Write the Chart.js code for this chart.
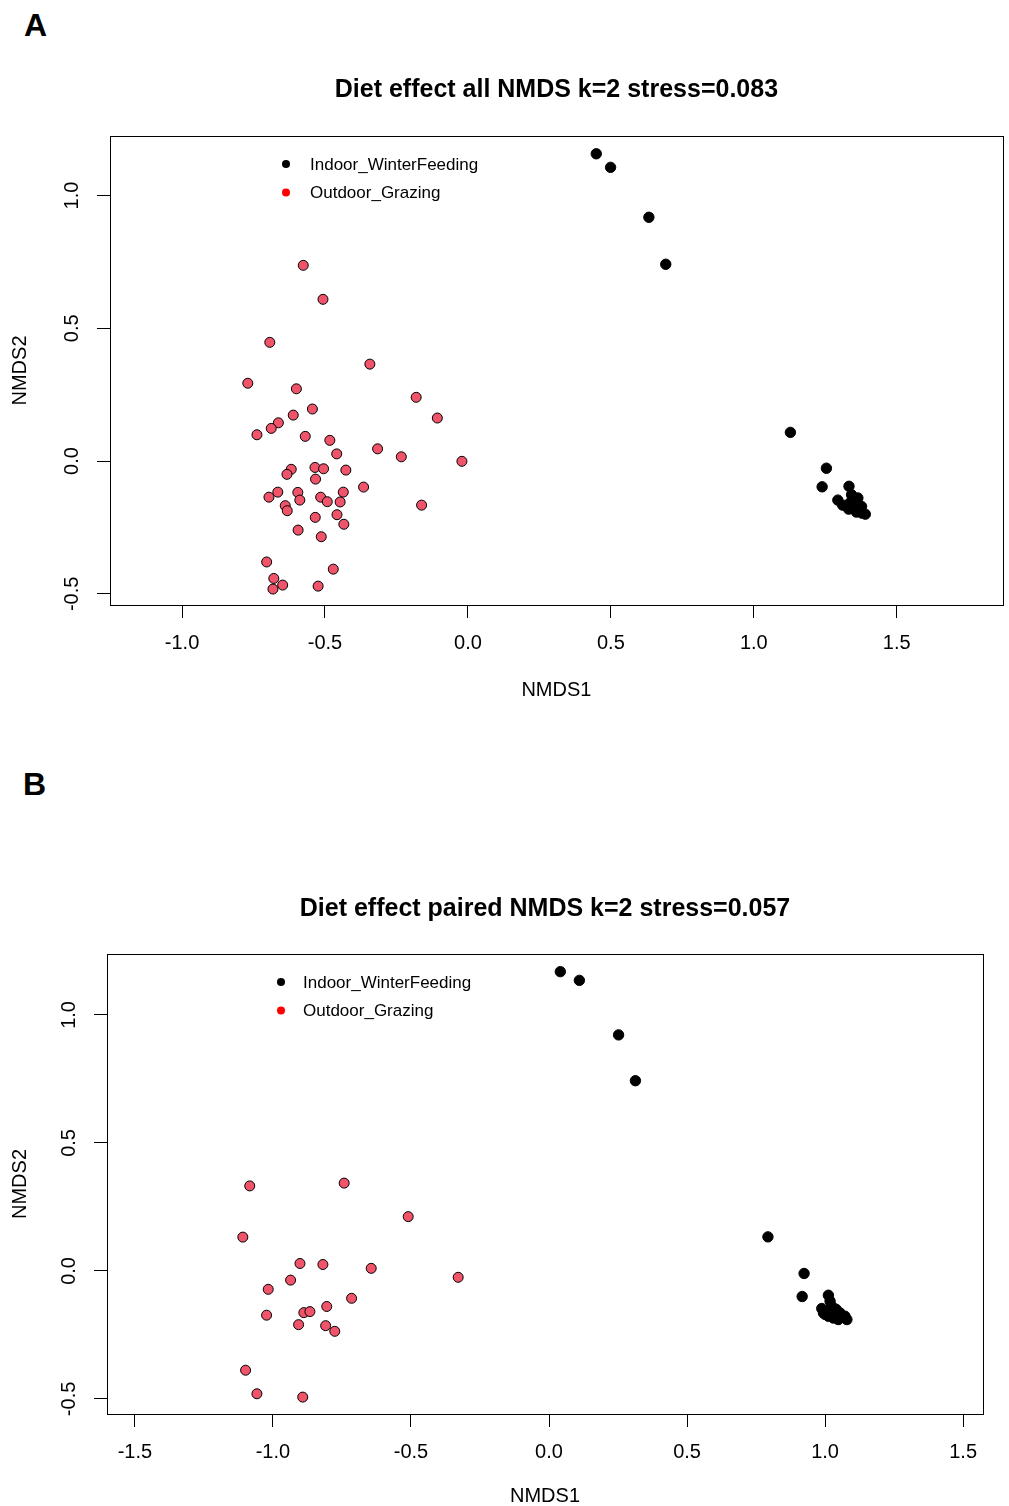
<!DOCTYPE html>
<html>
<head>
<meta charset="utf-8">
<title>Diet effect NMDS</title>
<script src="https://cdn.jsdelivr.net/npm/chart.js@4.4.0/dist/chart.umd.min.js"></script>
<style>
    body { margin: 0; background: #fff; font-family: "Liberation Sans", Arial, sans-serif; }
    #page { position: relative; width: 1009px; height: 1506px; overflow: hidden; }
    .panel-letter { position: absolute; font-weight: bold; font-size: 32px; line-height: 1; }
    .panel { position: absolute; left: 0; width: 1009px; }
</style>
</head>
<body>
<div id="page">
    <div class="panel-letter" style="left:24px; top:9px;">A</div>
    <div class="panel" style="top:0; height:720px;"><canvas id="chartA"></canvas></div>
    <div class="panel-letter" style="left:23px; top:768px;">B</div>
    <div class="panel" style="top:740px; height:766px;"><canvas id="chartB"></canvas></div>
</div>
<script>
/**
 * NMDS ordination plots, diet effect (all samples / paired samples)
 */

const groups = ['Indoor_WinterFeeding', 'Outdoor_Grazing'];
const groupColors = ['#000000', '#F0546B'];
const legendColors = ['#000000', '#FF0000'];

const xTicksA = [-1.0, -0.5, 0.0, 0.5, 1.0, 1.5];
const xTicksB = [-1.5, -1.0, -0.5, 0.0, 0.5, 1.0, 1.5];
const yTicks = [-0.5, 0.0, 0.5, 1.0];

// Panel A - all samples [NMDS1, NMDS2]
const indoorA = [
    [0.449, 1.157], [0.499, 1.106], [0.633, 0.918], [0.692, 0.741],
    [1.128, 0.108], [1.254, -0.027], [1.239, -0.097], [1.333, -0.095],
    [1.294, -0.147], [1.311, -0.166], [1.342, -0.127], [1.353, -0.158],
    [1.377, -0.171], [1.390, -0.200], [1.359, -0.192], [1.347, -0.177],
    [1.364, -0.139], [1.332, -0.181], [1.336, -0.158], [1.378, -0.196],
    [1.366, -0.165]
];
const outdoorA = [
    [-0.576, 0.737], [-0.507, 0.609], [-0.693, 0.447], [-0.343, 0.365],
    [-0.770, 0.293], [-0.600, 0.272], [-0.181, 0.240], [-0.544, 0.196],
    [-0.611, 0.173], [-0.663, 0.144], [-0.107, 0.162], [-0.688, 0.123],
    [-0.738, 0.099], [-0.569, 0.093], [-0.483, 0.078], [-0.459, 0.027],
    [-0.316, 0.046], [-0.233, 0.016], [-0.021, -0.001], [-0.618, -0.031],
    [-0.633, -0.050], [-0.535, -0.024], [-0.505, -0.029], [-0.427, -0.034],
    [-0.533, -0.068], [-0.365, -0.098], [-0.665, -0.117], [-0.696, -0.136],
    [-0.595, -0.118], [-0.588, -0.147], [-0.515, -0.136], [-0.492, -0.153],
    [-0.436, -0.117], [-0.447, -0.154], [-0.639, -0.168], [-0.632, -0.187],
    [-0.162, -0.166], [-0.534, -0.212], [-0.458, -0.202], [-0.434, -0.238],
    [-0.594, -0.260], [-0.513, -0.285], [-0.704, -0.380], [-0.471, -0.407],
    [-0.679, -0.442], [-0.648, -0.467], [-0.682, -0.482], [-0.524, -0.471]
];

// Panel B - paired samples [NMDS1, NMDS2]
const indoorB = [
    [0.041, 1.169], [0.110, 1.135], [0.252, 0.922], [0.313, 0.743],
    [0.793, 0.133], [0.924, -0.010], [0.917, -0.100], [1.012, -0.095],
    [0.988, -0.147], [0.994, -0.164], [1.024, -0.138], [1.030, -0.184],
    [1.054, -0.164], [1.072, -0.177], [1.079, -0.190], [1.048, -0.190],
    [1.012, -0.177], [1.018, -0.118], [1.040, -0.150], [1.060, -0.180],
    [1.000, -0.170]
];
const outdoorB = [
    [-1.084, 0.332], [-0.742, 0.343], [-0.510, 0.212], [-1.109, 0.132],
    [-0.902, 0.029], [-0.819, 0.025], [-0.644, 0.010], [-0.936, -0.036],
    [-1.017, -0.072], [-0.329, -0.025], [-0.715, -0.107], [-0.805, -0.139],
    [-1.023, -0.173], [-0.888, -0.163], [-0.866, -0.159], [-0.907, -0.210],
    [-0.809, -0.214], [-0.776, -0.236], [-1.099, -0.388], [-1.058, -0.480],
    [-0.892, -0.493]
];

Chart.defaults.font.family = '"Liberation Sans", Arial, sans-serif';
Chart.defaults.color = '#000';

const FONT = '"Liberation Sans", Arial, sans-serif';

/**
 * Box around the plot, rotated y tick labels and the point legend (R style)
 */
const rFrame = {
    id: 'rFrame',
    afterDraw(chart, args, opts) {
        const { ctx, chartArea: a } = chart;
        const y = chart.scales.y;
        ctx.save();
        ctx.strokeStyle = '#000';
        ctx.lineWidth = 1;
        ctx.strokeRect(Math.round(a.left) + 0.5, Math.round(a.top) + 0.5,
            Math.round(a.right - a.left), Math.round(a.bottom - a.top));

        ctx.fillStyle = '#000';
        ctx.font = `20px ${FONT}`;
        ctx.textAlign = 'center';
        ctx.textBaseline = 'middle';
        y.ticks.forEach(t => {
            ctx.save();
            ctx.translate(a.left - opts.yLabelOffset, y.getPixelForValue(t.value));
            ctx.rotate(-Math.PI / 2);
            ctx.fillText(t.value.toFixed(1), 0, 0);
            ctx.restore();
        });

        ctx.font = `17px ${FONT}`;
        ctx.textAlign = 'left';
        groups.forEach((g, i) => {
            const lx = a.left + opts.legendX;
            const ly = a.top + opts.legendY + i * 28.5;
            ctx.beginPath();
            ctx.arc(lx, ly, 4, 0, Math.PI * 2);
            ctx.fillStyle = legendColors[i];
            ctx.fill();
            ctx.fillStyle = '#000';
            ctx.fillText(g, lx + opts.legendGap, ly + 1);
        });
        ctx.restore();
    }
};

function makeNmdsChart(id, p) {
    const axisGrid = {
        drawOnChartArea: false,
        drawTicks: true,
        tickLength: 13,
        color: '#000',
        lineWidth: 1
    };

    return new Chart(document.getElementById(id), {
        type: 'scatter',
        data: {
            datasets: [
                {
                    label: groups[1],
                    data: p.outdoor.map(d => ({ x: d[0], y: d[1] })),
                    backgroundColor: groupColors[1],
                    borderColor: '#000',
                    borderWidth: 1,
                    pointRadius: 5
                },
                {
                    label: groups[0],
                    data: p.indoor.map(d => ({ x: d[0], y: d[1] })),
                    backgroundColor: groupColors[0],
                    borderColor: groupColors[0],
                    borderWidth: 1,
                    pointRadius: 5.2
                }
            ]
        },
        options: {
            responsive: true,
            maintainAspectRatio: false,
            animation: false,
            layout: { padding: { left: 0, right: p.padRight, top: 0, bottom: 0 } },
            scales: {
                x: {
                    type: 'linear',
                    min: p.xMin,
                    max: p.xMax,
                    afterBuildTicks: s => { s.ticks = p.xTicks.map(v => ({ value: v })); },
                    afterFit: s => { s.height = p.xAxisHeight; },
                    grid: axisGrid,
                    border: { display: false },
                    ticks: {
                        font: { size: 20 },
                        color: '#000',
                        padding: 13,
                        maxRotation: 0,
                        callback: v => v.toFixed(1)
                    },
                    title: {
                        display: true,
                        text: 'NMDS1',
                        font: { size: 20, lineHeight: 1 },
                        padding: { top: 0, bottom: p.xTitlePad }
                    }
                },
                y: {
                    type: 'linear',
                    min: p.yMin,
                    max: p.yMax,
                    afterBuildTicks: s => { s.ticks = yTicks.map(v => ({ value: v })); },
                    afterFit: s => { s.width = p.yAxisWidth; },
                    grid: axisGrid,
                    border: { display: false },
                    ticks: { display: false },
                    title: {
                        display: true,
                        text: 'NMDS2',
                        font: { size: 20, lineHeight: 1 },
                        padding: { top: 10, bottom: 0 }
                    }
                }
            },
            plugins: {
                legend: { display: false },
                tooltip: { enabled: false },
                title: {
                    display: true,
                    fullSize: false,
                    text: p.title,
                    font: { size: 25, weight: 'bold', lineHeight: 1.2 },
                    color: '#000',
                    padding: { top: p.titleTop, bottom: p.titleBottom }
                },
                rFrame: {
                    yLabelOffset: 38,
                    legendX: p.legendX,
                    legendY: 28,
                    legendGap: p.legendGap
                }
            }
        },
        plugins: [rFrame]
    });
}

makeNmdsChart('chartA', {
    title: 'Diet effect all NMDS k=2 stress=0.083',
    indoor: indoorA,
    outdoor: outdoorA,
    xTicks: xTicksA,
    xMin: -1.252, xMax: 1.871,
    yMin: -0.542, yMax: 1.224,
    padRight: 6,
    yAxisWidth: 110,
    xAxisHeight: 115,
    xTitlePad: 20,
    titleTop: 75,
    titleBottom: 31,
    legendX: 176,
    legendGap: 24
});

makeNmdsChart('chartB', {
    title: 'Diet effect paired NMDS k=2 stress=0.057',
    indoor: indoorB,
    outdoor: outdoorB,
    xTicks: xTicksB,
    xMin: -1.601, xMax: 1.572,
    yMin: -0.559, yMax: 1.238,
    padRight: 26,
    yAxisWidth: 107,
    xAxisHeight: 92,
    xTitlePad: 0,
    titleTop: 154,
    titleBottom: 30,
    legendX: 174,
    legendGap: 22
});
</script>
</body>
</html>
